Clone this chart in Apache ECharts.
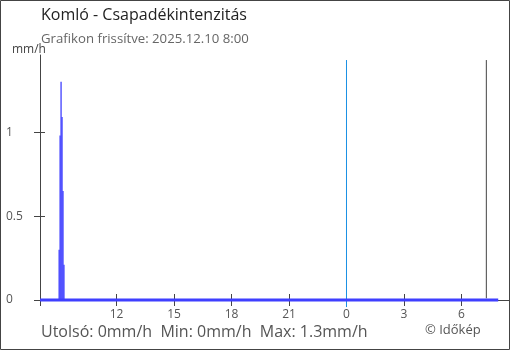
<!DOCTYPE html>
<html><head><meta charset="utf-8">
<script src="https://cdn.jsdelivr.net/npm/echarts@6/dist/echarts.min.js"></script>
<style>html,body{margin:0;padding:0;background:#fff}#c{width:510px;height:350px}</style>
</head><body><div id="c"></div>
<script>
// Time in hours since midnight of 2025.12.09 (8 = 8:00, 24 = 0:00, 32 = 8:00 next day)
const titleText = 'Komló - Csapadékintenzitás';
const subtitleText = 'Grafikon frissítve: 2025.12.10 8:00';
const unitText = 'mm/h';
const statsText = 'Utolsó: 0mm/h  Min: 0mm/h  Max: 1.3mm/h';
const creditText = '© Időkép';

const rainTimes  = [9.00, 9.05, 9.10, 9.15, 9.20, 9.25];
const rainValues = [0.30, 0.98, 1.30, 1.09, 0.65, 0.21];
const baseTimes  = [8.0, 31.92];
const baseValues = [0, 0];
const xTickHours = [8, 12, 15, 18, 21, 24, 27, 30];
const xLabelHours = [12, 15, 18, 21, 24, 27, 30];
const yTicks = [0, 0.5, 1];
const midnightHour = 24;
const lastHour = 31.3;
const xMin = 8, xMax = 32.483, yMax = 1.46, markTop = 1.43;

const chart = echarts.init(document.getElementById('c'), null, {renderer:'canvas'});
const FONT = '"Open Sans", "Noto Sans", sans-serif';
const gray = '#444';
const midBlue = '#1a90e4';
const grayTicks = xTickHours.filter(h => h !== midnightHour);
const baseX = {
  type:'value', min:xMin, max:xMax, gridIndex:0, position:'bottom',
  splitLine:{show:false}
};
const baseY = {
  type:'value', min:0, max:yMax, gridIndex:0, position:'left',
  splitLine:{show:false}
};
chart.setOption({
  animation:false,
  textStyle:{fontFamily:FONT},
  grid:{left:40, right:1, top:55, bottom:50, containLabel:false},
  xAxis:[
    Object.assign({}, baseX, {
      axisLine:{show:true, lineStyle:{color:gray, width:1}},
      axisTick:{show:true, length:6, lineStyle:{color:gray}, customValues:grayTicks},
      axisLabel:{show:true, color:'#555', fontSize:12, fontFamily:FONT, margin:9,
        customValues:xLabelHours, formatter:v=>String(Math.round(v)%24)}
    }),
    Object.assign({}, baseX, {
      axisLine:{show:false},
      axisTick:{show:true, inside:true, length:6, lineStyle:{color:gray}, customValues:grayTicks},
      axisLabel:{show:false}
    })
  ],
  yAxis:[
    Object.assign({}, baseY, {
      axisLine:{show:true, lineStyle:{color:gray, width:1}},
      axisTick:{show:true, length:6, lineStyle:{color:gray}, customValues:yTicks},
      axisLabel:{show:true, color:'#555', fontSize:12, fontFamily:FONT, margin:34, align:'left',
        customValues:yTicks, formatter:v=>String(v)}
    }),
    Object.assign({}, baseY, {
      axisLine:{show:false},
      axisTick:{show:true, inside:true, length:5, lineStyle:{color:gray}, customValues:yTicks},
      axisLabel:{show:false}
    })
  ],
  series:[
    {
      type:'line', symbol:'none', clip:false, silent:true, z:2,
      data:[[midnightHour, -0.042], [midnightHour, markTop]],
      color:midBlue, lineStyle:{color:midBlue, width:1}
    },
    {
      type:'line', symbol:'none', clip:false, silent:true, z:2,
      data:[[lastHour, 0.01], [lastHour, markTop]],
      color:'#444', lineStyle:{color:'#444', width:1}
    },
    {
      type:'line', xAxisIndex:0, yAxisIndex:0, symbol:'none', clip:false,
      data:baseTimes.map((t,i)=>[t, baseValues[i]]),
      color:'#3f3fff', lineStyle:{color:'#3f3fff', width:3}, z:3
    },
    {
      type:'bar', xAxisIndex:0, yAxisIndex:0, barWidth:1.3, barGap:'-100%',
      data:rainTimes.map((t,i)=>[t, rainValues[i]]),
      itemStyle:{color:'#3f3fff'}, z:4
    }
  ],
  graphic:[
    {type:'rect', shape:{x:0.5, y:0.5, width:509, height:349}, style:{fill:'none', stroke:'#444', lineWidth:1}, silent:true},
    {type:'text', left:41, top:7, style:{text:titleText, font:'16px '+FONT, fill:'#222'}},
    {type:'text', left:41, top:33, style:{text:subtitleText, font:'13.2px '+FONT, fill:'#666'}},
    {type:'text', left:12, top:44, style:{text:unitText, font:'12px '+FONT, fill:'#444'}},
    {type:'text', left:41, top:324, style:{text:statsText, font:'16px '+FONT, fill:'#555'}},
    {type:'text', left:425, top:324, style:{text:creditText, font:'13px '+FONT, fill:'#555'}}
  ]
});
</script></body></html>
